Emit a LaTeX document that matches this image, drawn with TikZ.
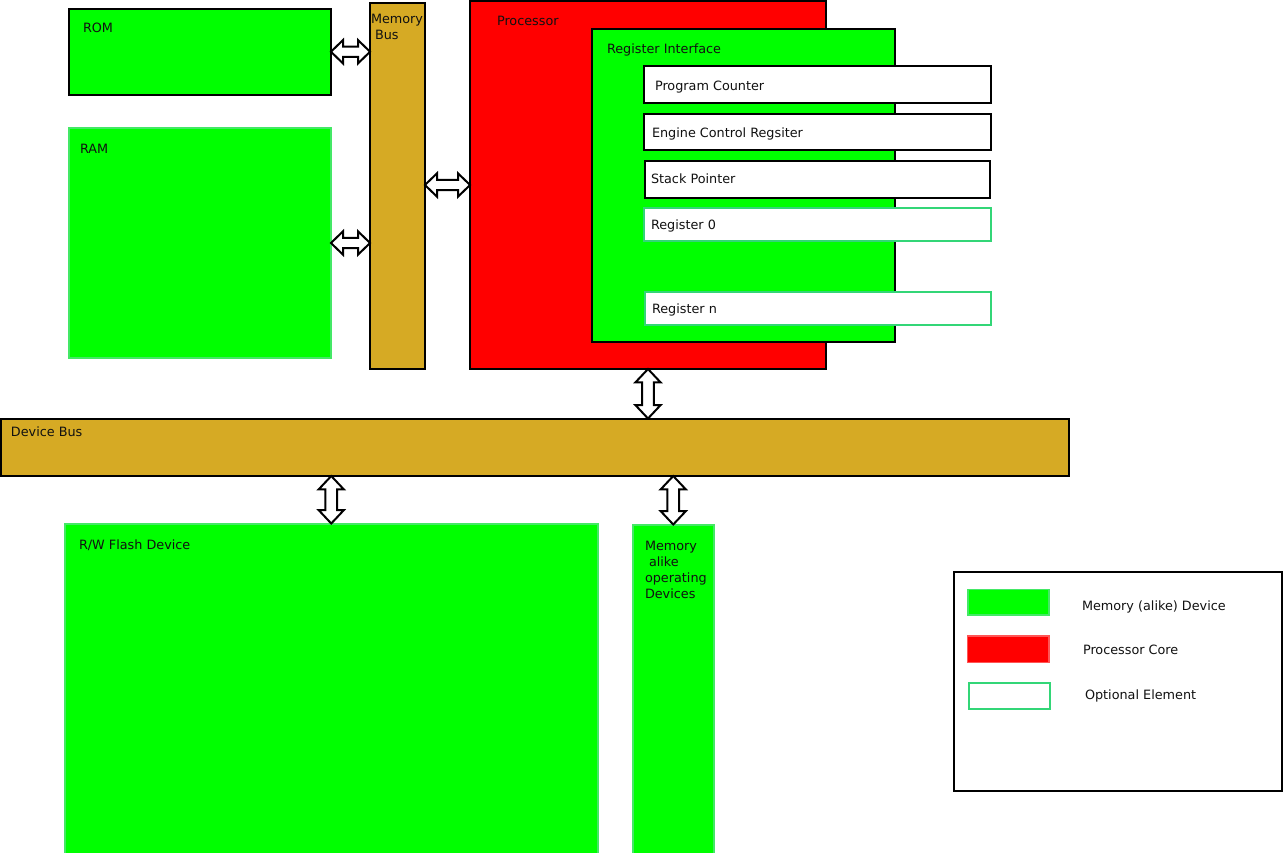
\documentclass[tikz,border=0pt]{standalone}
\usepackage{fontspec}
\setmainfont{DejaVu Sans}
\usetikzlibrary{calc}
\definecolor{memgreen}{HTML}{00FF00}
\definecolor{softgreen}{HTML}{44E866}
\definecolor{cpured}{HTML}{FF0000}
\definecolor{softred}{HTML}{FF5555}
\definecolor{busgold}{HTML}{D6AA24}
\definecolor{optgreen}{HTML}{33D677}
\definecolor{txtcol}{HTML}{111111}
\newcommand\boxnode[6]{\node[#2, inner sep=0pt, outer sep=0pt, minimum width={(#5-#3)*0.75pt}, minimum height={(#6-#4)*0.75pt}] (#1) at ({(#3+#5)/2},{(#4+#6)/2}) {};}
\newcommand\harrow[2]{\draw[barrow] let \p1=#1, \p2=#2 in (\x1,\y1) -- (\x1+9pt,\y1+8.8pt) -- (\x1+9pt,\y1+3.8pt) -- (\x2-9pt,\y1+3.8pt) -- (\x2-9pt,\y1+8.8pt) -- (\x2,\y1) -- (\x2-9pt,\y1-8.8pt) -- (\x2-9pt,\y1-3.8pt) -- (\x1+9pt,\y1-3.8pt) -- (\x1+9pt,\y1-8.8pt) -- cycle;}
\newcommand\varrow[2]{\draw[barrow] let \p1=#1, \p2=#2 in (\x1,\y1) -- (\x1+9.4pt,\y1-10pt) -- (\x1+4.4pt,\y1-10pt) -- (\x1+4.4pt,\y2+10pt) -- (\x1+9.4pt,\y2+10pt) -- (\x1,\y2) -- (\x1-9.4pt,\y2+10pt) -- (\x1-4.4pt,\y2+10pt) -- (\x1-4.4pt,\y1-10pt) -- (\x1-9.4pt,\y1-10pt) -- cycle;}
\tikzset{
  blackbox/.style={draw=black, line width=1.5pt},
  memblk/.style={blackbox, fill=memgreen},
  memsoft/.style={draw=softgreen, line width=1.5pt, fill=memgreen},
  busbox/.style={blackbox, fill=busgold},
  cpubox/.style={blackbox, fill=cpured},
  regbox/.style={blackbox, fill=white},
  optbox/.style={draw=optgreen, line width=1.5pt, fill=white},
  redswatch/.style={draw=softred, line width=1pt, fill=cpured},
  barrow/.style={draw=black, line width=1.5pt, fill=white, line join=miter},
  lbl/.style={inner sep=0pt, outer sep=0pt, anchor=base west, text=txtcol, font=\fontsize{9.6pt}{12pt}\selectfont},
  mlbl/.style={inner sep=0pt, outer sep=0pt, anchor=north west, align=left, text=txtcol, font=\fontsize{9.6pt}{12pt}\selectfont},
}
\begin{document}
\begin{tikzpicture}[x=0.75pt,y=-0.75pt]
\useasboundingbox (0,0) rectangle (1283,853);
% memory side
\boxnode{rom}{memblk}{69}{8.5}{331}{95}
\boxnode{ram}{memsoft}{68.5}{128}{331}{358}
\boxnode{membus}{busbox}{370}{2.5}{425}{369}
% processor
\boxnode{proc}{cpubox}{470}{1}{826}{369}
\boxnode{regif}{memblk}{592}{29}{895}{342}
\boxnode{pc}{regbox}{644}{66}{991}{102.5}
\boxnode{ecr}{regbox}{644}{113.5}{990.5}{150}
\boxnode{sp}{regbox}{644.5}{161}{990}{198}
\boxnode{rzero}{optbox}{643.5}{207.5}{990.5}{240.5}
\boxnode{rn}{optbox}{644.5}{291.5}{991}{324.5}
% device bus
\boxnode{devbus}{busbox}{1}{418.5}{1069}{476}
\boxnode{flash}{memsoft}{64.5}{523.5}{598}{858}
\boxnode{memalike}{memsoft}{632.5}{524.5}{714}{858}
% legend
\boxnode{legend}{blackbox, fill=white}{953.5}{571.5}{1282}{791}
\boxnode{swmem}{memsoft, line width=1pt}{968}{589.5}{1049}{615}
\boxnode{swcpu}{redswatch}{967.5}{636}{1049}{662.5}
\boxnode{swopt}{optbox}{968.5}{682.5}{1050}{709}
% labels
\node[lbl] (tRom) at (83,32) {ROM};
\node[lbl] (tRam) at (80,153) {RAM};
\node[mlbl] (tMemBus) at (371,14.5) {Memory\\\hspace*{3pt}Bus};
\node[lbl] (tProc) at (497,26) {Processor};
\node[lbl] (tRegIf) at (607,53) {Register Interface};
\node[lbl] (tPc) at (655,90.5) {Program Counter};
\node[lbl] (tEcr) at (652,137.5) {Engine Control Regsiter};
\node[lbl] (tSp) at (651,183.5) {Stack Pointer};
\node[lbl] (tR0) at (651,229.5) {Register 0};
\node[lbl] (tRn) at (652,313.5) {Register n};
\node[lbl] (tDevBus) at (11,436.5) {Device Bus};
\node[lbl] (tFlash) at (79,549.5) {R/W Flash Device};
\node[mlbl] (tMemAlike) at (645,541.5) {Memory\\\hspace*{3pt}alike\\operating\\Devices};
\node[lbl] (tLgMem) at (1082,610.5) {Memory (alike) Device};
\node[lbl] (tLgCpu) at (1083,654.5) {Processor Core};
\node[lbl] (tLgOpt) at (1085,699.5) {Optional Element};
% arrows
\harrow{(rom.east)}{(rom.east -| membus.west)}
\harrow{(ram.east)}{(ram.east -| membus.west)}
\harrow{(membus.east |- proc.west)}{(proc.west)}
\varrow{(proc.south)}{(proc.south |- devbus.north)}
\varrow{(flash.north |- devbus.south)}{(flash.north)}
\varrow{(memalike.north |- devbus.south)}{(memalike.north)}
\end{tikzpicture}
\end{document}
